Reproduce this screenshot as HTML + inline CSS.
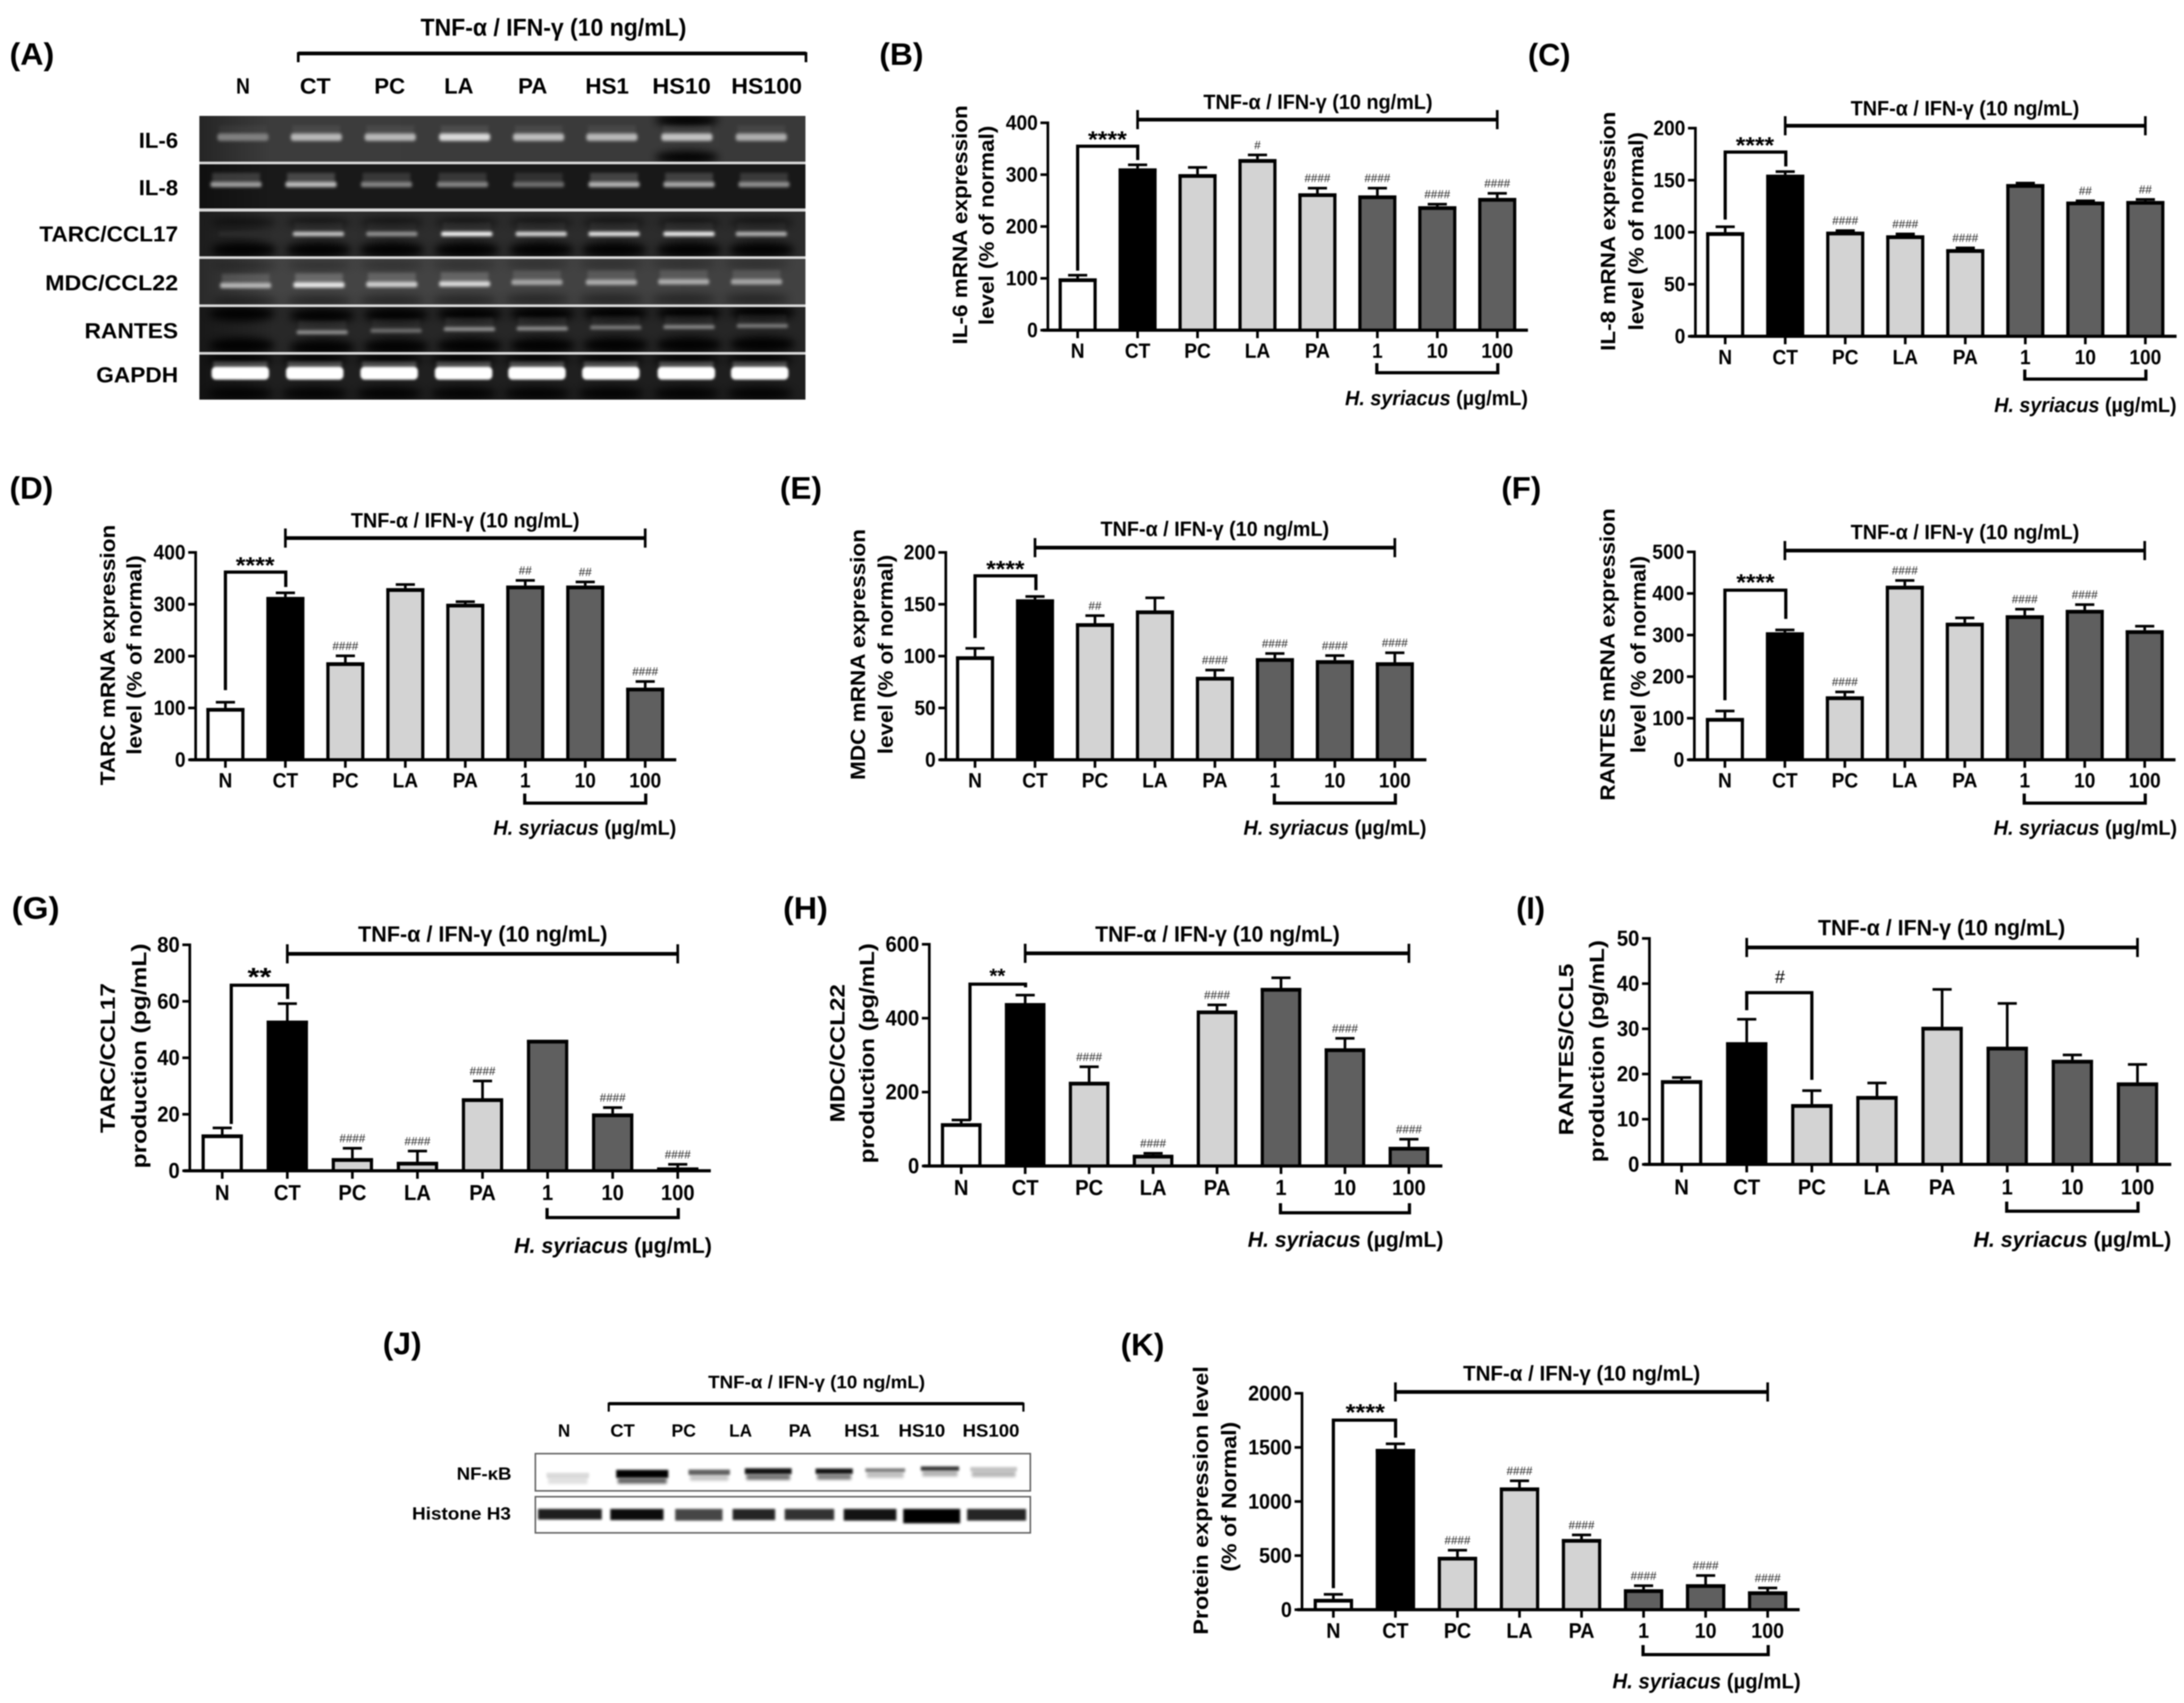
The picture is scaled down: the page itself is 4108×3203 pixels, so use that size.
<!DOCTYPE html>
<html lang="en">
<head>
<meta charset="utf-8">
<title>TNF-α / IFN-γ expression panels</title>
<style>
html,body{margin:0;padding:0;background:#fff;width:4108px;height:3203px;overflow:hidden}
svg{display:block;font-family:"Liberation Sans",Arial,sans-serif;filter:blur(1.1px)}
</style>
</head>
<body>
<svg id="figure" xmlns="http://www.w3.org/2000/svg" width="4108" height="3203" viewBox="0 0 4108 3203">
<defs>
<filter id="b2" x="-30%" y="-100%" width="160%" height="300%"><feGaussianBlur stdDeviation="2.2"/></filter>
<filter id="b3" x="-30%" y="-200%" width="160%" height="500%"><feGaussianBlur stdDeviation="3"/></filter>
<filter id="b6" x="-40%" y="-200%" width="180%" height="500%"><feGaussianBlur stdDeviation="8"/></filter>
<clipPath id="gel-clip"><rect x="375" y="218" width="1140" height="534"/></clipPath>
<clipPath id="blot-clip"><rect x="1007" y="2734" width="931" height="149"/></clipPath>
<linearGradient id="gel-fade" x1="0" x2="1" y1="0" y2="0"><stop offset="0" stop-color="#000" stop-opacity=".45"/><stop offset=".12" stop-color="#000" stop-opacity=".1"/><stop offset="1" stop-color="#000" stop-opacity=".15"/></linearGradient>
</defs>
<rect width="4108" height="3203" fill="#fff"/>
</svg>
<script>
// ---------- chart data ----------
const categories = ['N','CT','PC','LA','PA','1','10','100'];
const treatmentLabel = 'TNF-α / IFN-γ (10 ng/mL)';

const valuesB = [98,310,299,328,262,258,237,253];
const errorsB = [7,8,14,9,11,15,5,10];
const marksB  = ['','','','#','####','####','####','####'];
const ticksB  = [0,100,200,300,400];

const valuesC = [99,154.3,99.5,96,82.7,145.2,128.4,129];
const errorsC = [5.7,3.4,1.5,1.8,1.7,1.5,1.2,2];
const marksC  = ['','','####','####','####','','##','##'];
const ticksC  = [0,50,100,150,200];

const valuesD = [98,312,186,329,299,334,334,137];
const errorsD = [12,9,13.5,8,5,11,8,13];
const marksD  = ['','','####','','','##','##','####'];
const ticksD  = [0,100,200,300,400];

const valuesE = [98.8,153.7,130.7,143,79,97,95,93];
const errorsE = [8.2,3.3,7.8,12.7,7,5,5,9.7];
const marksE  = ['','','##','','####','####','####','####'];
const ticksE  = [0,50,100,150,200];

const valuesF = [98,304,150,416,327,345,358,309];
const errorsF = [18,7,12,14,13,16,14,11];
const marksF  = ['','','####','####','','####','####',''];
const ticksF  = [0,100,200,300,400,500];

const valuesG = [12.5,52.8,4.1,2.8,25.3,46,19.9,0.8];
const errorsG = [2.5,6.2,3.7,4,6.3,0,2.3,1.3];
const marksG  = ['','','####','####','####','','####','####'];
const ticksG  = [0,20,40,60,80];

const valuesH = [113,438,225,27.5,418,479,315.5,49];
const errorsH = [10,23,42,5.5,16.5,29,28.5,22];
const marksH  = ['','','####','####','####','','####','####'];
const ticksH  = [0,200,400,600];

const valuesI = [18.4,26.8,13.1,14.9,30.2,25.8,22.9,17.9];
const errorsI = [0.7,5.2,3.1,3,8.4,9.7,1.2,4.1];
const marksI  = ['','','','','','','',''];
const ticksI  = [0,10,20,30,40,50];

const valuesK = [90,1476,479,1120,644,179,226,160];
const errorsK = [47,52,66,66,42,38,85,36];
const marksK  = ['','','####','####','####','####','####','####'];
const ticksK  = [0,500,1000,1500,2000];

// ---------- panel layout (frame geometry only) ----------
const barFill = i => i===0 ? '#ffffff' : i===1 ? '#000000' : i<5 ? '#d3d3d3' : '#5f5f5f';
const NS = 'http://www.w3.org/2000/svg';
const root = document.getElementById('figure');

function mk(parent, tag, attrs, name, text) {
  const el = document.createElementNS(NS, tag);
  for (const k in attrs) el.setAttribute(k, attrs[k]);
  
  
  if (text !== undefined) el.textContent = text;
  parent.appendChild(el);
  return el;
}
function line(p, x1, y1, x2, y2, sw, name) {
  return mk(p, 'line', {x1, y1, x2, y2, stroke:'#000', 'stroke-width':sw}, name);
}
function poly(p, pts, sw, name) {
  return mk(p, 'polyline', {points:pts.map(q=>q.join(',')).join(' '), fill:'none', stroke:'#000', 'stroke-width':sw, 'stroke-linejoin':'miter'}, name);
}
// Reference glyphs are slightly taller than wide: condensed by keeping the width and raising the size.
function label(p, str, x, cy, o, name) {
  const fs = o.fs;
  const a = {x, y:cy + (o.base===undefined ? .36 : o.base)*fs, 'font-size':fs, 'font-weight':o.weight||'bold', fill:o.fill||'#000', 'text-anchor':o.anchor||'middle'};
  if (o.w) { a.textLength = o.w; a.lengthAdjust = 'spacingAndGlyphs'; }
  const el = mk(p, 'text', a, name, str);
  if (o.condense) {
    const natural = el.getComputedTextLength();
    el.setAttribute('font-size', fs*1.07);
    el.setAttribute('textLength', natural);
    el.setAttribute('lengthAdjust', 'spacingAndGlyphs');
  }
  return el;
}
function panelLetter(p, str, x, cy, w) {
  return mk(p, 'text', {x, y:cy+16, 'font-size':58, 'font-weight':'bold', textLength:w, lengthAdjust:'spacingAndGlyphs'}, 'panel-letter', str);
}
function syriacus(p, right, cy, w, fs) {
  const t = mk(p, 'text', {x:right, y:cy+.36*fs, 'font-size':fs, 'font-weight':'bold', 'text-anchor':'end', textLength:w, lengthAdjust:'spacingAndGlyphs'}, 'h-syriacus-label');
  mk(t, 'tspan', {'font-style':'italic'}, 'h-syriacus-species', 'H. syriacus');
  mk(t, 'tspan', {}, 'h-syriacus-unit', ' (µg/mL)');
  return t;
}

function drawChart(c) {
  const g = mk(root, 'g', {}, c.name);
  const yS = v => c.y0 - (v/c.max)*(c.y0-c.yt);
  const xS = i => c.x0 + i*c.step;
  const bw = .635*c.step;
  panelLetter(g, c.letter[0], c.letter[1], c.letter[2], c.letter[3]);

  // y titles
  c.ytitle.forEach((t,i) => {
    mk(g, 'text', {x:t[1]+12, y:t[2], transform:`rotate(-90 ${t[1]+12} ${t[2]})`, 'font-size':39, 'font-weight':'bold', 'text-anchor':'middle', textLength:t[3], lengthAdjust:'spacingAndGlyphs'}, 'y-axis-title-line-'+(i+1), t[0]);
  });

  // bars + errors
  categories.forEach((cat,i) => {
    const v = c.values[i], e = c.errors[i];
    const yv = yS(v) - 2;
    if (e > 0) {
      line(g, xS(i), yv, xS(i), yS(v+e)-1, 5, 'error-bar-'+cat);
      line(g, xS(i)-18, yS(v+e)-1, xS(i)+18, yS(v+e)-1, 5, 'error-cap-'+cat);
    }
    mk(g, 'rect', {x:xS(i)-bw/2+3, y:yv+3, width:bw-6, height:Math.max(0,c.y0-yv-3), fill:barFill(i), stroke:'#000', 'stroke-width':6}, 'bar-'+cat);
    line(g, xS(i)-bw/2, yv+3.5, xS(i)+bw/2, yv+3.5, 7, 'bar-top-'+cat);
    if (c.marks[i]) {
      label(g, c.marks[i], xS(i), yS(v+e)-20, {fs:22, weight:'normal', fill:'#1c1c1c', w:c.marks[i].length*12.2}, 'significance-mark-'+cat);
    }
    line(g, xS(i), c.y0, xS(i), c.y0+15, 5, 'x-tick-'+cat);
    label(g, cat, xS(i), c.xly, {fs:c.fs, condense:true}, 'x-label-'+cat);
  });

  // axes
  line(g, c.ax, c.yt-2.5, c.ax, c.y0+2, 5, 'y-axis');
  line(g, c.xs, c.y0, c.xe, c.y0, 6, 'x-axis');
  c.ticks.forEach(v => {
    line(g, c.ax-14, yS(v), c.ax, yS(v), 5, 'y-tick-'+v);
    label(g, String(v), c.ax-19, yS(v), {fs:c.fs, anchor:'end', condense:true}, 'y-tick-label-'+v);
  });

  // treatment bracket
  const tb = c.treat;
  line(g, xS(1), tb.y, xS(7), tb.y, 7, 'treatment-bracket');
  line(g, xS(1), tb.y-18, xS(1), tb.y+18, 5, 'treatment-bracket-left-end');
  line(g, xS(7), tb.y-18, xS(7), tb.y+18, 5, 'treatment-bracket-right-end');
  label(g, treatmentLabel, tb.cx, tb.ly, {fs:tb.fs+3, w:tb.w}, 'treatment-label');

  // significance bracket
  const s = c.sig;
  poly(g, [[s.lx, s.ly],[s.lx, s.y],[s.rx, s.y],[s.rx, s.ry]], 6, 'significance-bracket');
  label(g, s.text, s.cx, s.cy, {fs:s.fs, w:s.w, base:s.base===undefined?.55:s.base, weight:s.weight}, 'significance-label');

  // dose bracket
  const d = c.dose;
  poly(g, [[xS(5)-1, d.y-18],[xS(5)-1, d.y],[xS(7)+1, d.y],[xS(7)+1, d.y-18]], 6, 'dose-bracket');
  syriacus(g, d.right, d.ly, d.w, d.fs+3);
}

const charts = [
{name:'panel-b-il6', letter:['(B)',1654,106,83], values:valuesB, errors:errorsB, marks:marksB, ticks:ticksB, max:400,
 ax:1971,y0:621,yt:231,x0:2027,step:112.75,xs:1961,xe:2874,xly:660,fs:36,
 ytitle:[['IL-6 mRNA expression',1807,423,450],['level (% of normal)',1857,424,375]],
 treat:{y:225,cx:2479,ly:191,w:431,fs:36},
 sig:{lx:2027,rx:2140,y:275,ly:509,ry:301,text:'****',cx:2083,cy:253,fs:44,w:73},
 dose:{y:701,right:2874,ly:748,w:344,fs:36}},
{name:'panel-c-il8', letter:['(C)',2874,107,80], values:valuesC, errors:errorsC, marks:marksC, ticks:ticksC, max:200,
 ax:3189,y0:632.5,yt:241,x0:3245,step:112.9,xs:3179,xe:4094,xly:672,fs:36,
 ytitle:[['IL-8 mRNA expression',3026,435,450],['level (% of normal)',3079,435,373]],
 treat:{y:236.5,cx:3696,ly:203,w:430,fs:36},
 sig:{lx:3245,rx:3359,y:286,ly:413,ry:313,text:'****',cx:3301,cy:264,fs:44,w:72},
 dose:{y:713,right:4094,ly:761,w:343,fs:36}},
{name:'panel-d-tarc', letter:['(D)',18,922,82], values:valuesD, errors:errorsD, marks:marksD, ticks:ticksD, max:400,
 ax:368,y0:1429,yt:1039,x0:424,step:112.8,xs:357,xe:1272,xly:1468,fs:36,
 ytitle:[['TARC mRNA expression',204,1232,490],['level (% of normal)',254,1232,375]],
 treat:{y:1012,cx:875,ly:978,w:430,fs:36},
 sig:{lx:424,rx:537.5,y:1076,ly:1298,ry:1104,text:'****',cx:480,cy:1054,fs:44,w:73},
 dose:{y:1510.5,right:1272,ly:1556,w:344,fs:36}},
{name:'panel-e-mdc', letter:['(E)',1467,922,79], values:valuesE, errors:errorsE, marks:marksE, ticks:ticksE, max:200,
 ax:1779,y0:1429,yt:1039,x0:1834,step:112.8,xs:1768,xe:2683,xly:1468,fs:36,
 ytitle:[['MDC mRNA expression',1615,1231,472],['level (% of normal)',1667,1231,375]],
 treat:{y:1030,cx:2285,ly:994,w:430,fs:36},
 sig:{lx:1834,rx:1948.5,y:1083,ly:1200,ry:1110,text:'****',cx:1891,cy:1061,fs:44,w:72},
 dose:{y:1510.5,right:2683,ly:1556,w:344,fs:36}},
{name:'panel-f-rantes', letter:['(F)',2824,922,75], values:valuesF, errors:errorsF, marks:marksF, ticks:ticksF, max:500,
 ax:3187,y0:1429,yt:1038,x0:3244.5,step:112.8,xs:3176,xe:4092,xly:1468,fs:36,
 ytitle:[['RANTES mRNA expression',3025,1231,550],['level (% of normal)',3083,1231,371]],
 treat:{y:1035.5,cx:3696,ly:1000,w:430,fs:36},
 sig:{lx:3244.5,rx:3359,y:1110,ly:1317,ry:1164,text:'****',cx:3302,cy:1086,fs:44,w:72},
 dose:{y:1510.5,right:4095,ly:1556,w:345,fs:36}},
{name:'panel-g-tarc-production', letter:['(G)',22,1712,90], values:valuesG, errors:errorsG, marks:marksG, ticks:ticksG, max:80,
 ax:357,y0:2202,yt:1777,x0:418,step:122.4,xs:346,xe:1337,xly:2243.5,fs:38,
 ytitle:[['TARC/CCL17',204,1990,282],['production (pg/mL)',263,1986,423]],
 treat:{y:1794,cx:908,ly:1756,w:469,fs:39},
 sig:{lx:435,rx:541,y:1853,ly:2114,ry:1879,text:'**',cx:488,cy:1827,fs:48,w:45},
 dose:{y:2290,right:1339,ly:2341.5,w:372,fs:38}},
{name:'panel-h-mdc-production', letter:['(H)',1473,1712,84], values:valuesH, errors:errorsH, marks:marksH, ticks:ticksH, max:600,
 ax:1748,y0:2193,yt:1776,x0:1808,step:120.3,xs:1737,xe:2713,xly:2234,fs:38,
 ytitle:[['MDC/CCL22',1576.5,1981,260],['production (pg/mL)',1632,1981,414]],
 treat:{y:1793,cx:2290,ly:1756,w:460,fs:39},
 sig:{lx:1824.5,rx:1929,y:1851,ly:2107,ry:1857,text:'**',cx:1876,cy:1827,fs:38,w:30},
 dose:{y:2281,right:2715,ly:2330,w:368,fs:38}},
{name:'panel-i-rantes-production', letter:['(I)',2852,1712,54], values:valuesI, errors:errorsI, marks:marksI, ticks:ticksI, max:50,
 ax:3102.5,y0:2190,yt:1765,x0:3163,step:122.5,xs:3092,xe:4084,xly:2233,fs:38,
 ytitle:[['RANTES/CCL5',2947,1974,323],['production (pg/mL)',3005,1977,418]],
 treat:{y:1782,cx:3652,ly:1744,w:465,fs:39},
 sig:{lx:3285.5,rx:3408,y:1867,ly:1900,ry:2031,text:'#',cx:3348,cy:1837,fs:34,base:.36,weight:'normal'},
 dose:{y:2278,right:4084,ly:2330,w:372,fs:38}},
{name:'panel-k-protein-expression', letter:['(K)',2108,2533,82], values:valuesK, errors:errorsK, marks:marksK, ticks:ticksK, max:2000,
 ax:2449,y0:3027.5,yt:2620.5,x0:2508,step:116.7,xs:2440,xe:3385,xly:3067,fs:37,
 ytitle:[['Protein expression level',2260,2822,505],['(% of Normal)',2313,2815,282]],
 treat:{y:2618,cx:2975,ly:2582,w:446,fs:37},
 sig:{lx:2508,rx:2625,y:2671,ly:2987,ry:2704,text:'****',cx:2568,cy:2647,fs:44,w:74},
 dose:{y:3112,right:3387,ly:3161,w:354,fs:37}}
];
charts.forEach(drawChart);

// ---------- panel A : RT-PCR gel ----------
const gelLanes = ['N','CT','PC','LA','PA','HS1','HS10','HS100'];
const gelTargets = ['IL-6','IL-8','TARC/CCL17','MDC/CCL22','RANTES','GAPDH'];
const gelIntensity = [
  [.50,.72,.72,.86,.74,.72,.76,.68],
  [.62,.74,.52,.52,.44,.70,.66,.56],
  [.16,.78,.58,1.0,.86,.92,.96,.70],
  [.72,.92,.82,.86,.66,.68,.68,.66],
  [.00,.58,.45,.60,.58,.50,.55,.50],
  [1,1,1,1,1,1,1,1]
];
(function(){
  const g = mk(root, 'g', {}, 'panel-a-gel');
  panelLetter(g, '(A)', 18, 106, 84);
  label(g, treatmentLabel, 1041, 51, {fs:45, w:500}, 'treatment-label');
  line(g, 561, 100.5, 1516, 100.5, 7, 'treatment-bracket');
  line(g, 561, 98, 561, 117, 5, 'treatment-bracket-left-end');
  line(g, 1516, 98, 1516, 117, 5, 'treatment-bracket-right-end');
  const headX = [457,593,733,863,1002,1142,1282,1442];
  const headW = [26,58,58,55,55,82,110,133];
  gelLanes.forEach((n,i)=> label(g, n, headX[i], 161, {fs:42, w:headW[i]}, 'lane-label-'+n));
  const strips = [
    {y:218,h:86,bg:'#434343',by:258,bh:14,smear:.10,rowY:263,lw:74,spots:[],
     x:[457,595,734,874,1013,1151,1292,1432],dy:[0,0,0,0,0,0,0,0]},
    {y:309,h:83,bg:'#1c1c1c',by:347,bh:10,smear:.28,rowY:352,lw:74,spots:[],
     x:[444,585,727,870,1013,1155,1296,1437],dy:[0,0,0,0,0,0,0,0]},
    {y:398,h:84,bg:'#333333',by:440,bh:8,smear:.06,rowY:439,lw:261,spots:[[470,15,.95],[418,9,.6]],
     x:[459,599,737,878,1018,1155,1296,1432],dy:[0,0,0,0,0,0,0,0]},
    {y:487,h:85.5,bg:'#4c4c4c',by:533,bh:10,smear:.22,rowY:531,lw:250,spots:[[564,9,.45],[497,8,.3]],
     x:[462,600,737,874,1010,1150,1286,1423],dy:[4,3,2,1,-2,-2,-3,-3]},
    {y:577.5,h:84.5,bg:'#2c2c2c',by:618,bh:7,smear:.12,rowY:621,lw:176,spots:[[590,14,.95],[650,15,.95]],
     x:[455,606,745,883,1020,1158,1296,1434],dy:[0,7,4,1,0,-2,-3,-5]},
    {y:667,h:84.5,bg:'#232323',by:702,bh:24,smear:.25,rowY:704,lw:154,spots:[[676,10,1],[740,12,.9]],
     x:[452,592,732,872,1010,1149,1291,1429],dy:[0,0,0,0,0,0,0,0]}
  ];
  const clip = mk(g, 'g', {'clip-path':'url(#gel-clip)'}, 'gel-image');
  mk(clip, 'rect', {x:375,y:218,width:1140,height:534,fill:'#d8d8d8'}, 'gel-separators');
  strips.forEach((s,r)=>{
    const cp = mk(clip, 'clipPath', {id:'strip-clip-'+r}, 'gel-strip-clip');
    mk(cp, 'rect', {x:375,y:s.y,width:1140,height:s.h}, 'gel-strip-clip-rect');
    const sg = mk(clip, 'g', {'clip-path':`url(#strip-clip-${r})`}, 'gel-strip-'+gelTargets[r]);
    mk(sg, 'rect', {x:375,y:s.y,width:1140,height:s.h,fill:s.bg}, 'gel-strip-background');
    mk(sg, 'rect', {x:375,y:s.y,width:1140,height:s.h,fill:'url(#gel-fade)'}, 'gel-strip-shading');
    if (r===0) {
      mk(sg, 'ellipse', {cx:1292, cy:226, rx:60, ry:12, fill:'#000', filter:'url(#b6)'}, 'gel-dark-spot');
      mk(sg, 'ellipse', {cx:1292, cy:296, rx:60, ry:12, fill:'#000', filter:'url(#b6)'}, 'gel-dark-spot');
    }
    s.x.forEach((x,i)=>{
      const v = gelIntensity[r][i];
      const w = r===5 ? 108 : 96;
      const by = s.by + s.dy[i];
      s.spots.forEach(sp => {
        mk(sg, 'ellipse', {cx:x, cy:sp[0]+s.dy[i]*.5, rx:62, ry:sp[1], fill:'#000', opacity:sp[2], filter:'url(#b6)'}, 'gel-dark-spot');
      });
      if (v===0) return;
      const c = Math.round(255*v);
      mk(sg, 'rect', {x:x-w/2+3, y:by-22, width:w-6, height:20, fill:`rgb(${c},${c},${c})`, opacity:s.smear, filter:'url(#b3)'}, 'gel-band-smear');
      mk(sg, 'rect', {x:x-w/2, y:by-s.bh/2, width:w, height:s.bh, rx:s.bh/3, fill:`rgb(${c},${c},${c})`, filter:r===5?'url(#b2)':'url(#b3)'}, 'gel-band-'+gelLanes[i]);
    });
    label(g, gelTargets[r], 335, s.rowY, {fs:41, anchor:'end', w:s.lw}, 'row-label-'+gelTargets[r]);
  });
})();

// ---------- panel J : western blot ----------
const blotLanes = ['N','CT','PC','LA','PA','HS1','HS10','HS100'];
const nfkbUpper = [.14,1,.62,.92,.92,.5,.78,.22];
const nfkbLower = [.12,.6,.22,.55,.5,.25,.3,.28];
(function(){
  const g = mk(root, 'g', {}, 'panel-j-blot');
  panelLetter(g, '(J)', 720, 2531, 73);
  label(g, treatmentLabel, 1536, 2599, {fs:34, w:408}, 'treatment-label');
  line(g, 1145, 2640, 1925, 2640, 6, 'treatment-bracket');
  line(g, 1145, 2638, 1145, 2655, 4, 'treatment-bracket-left-end');
  line(g, 1925, 2638, 1925, 2655, 4, 'treatment-bracket-right-end');
  const headX = [1061,1171,1286,1393,1505,1621,1734,1864];
  const headW = [23,46,46,43,43,66,88,107];
  blotLanes.forEach((n,i)=> label(g, n, headX[i], 2690, {fs:33, w:headW[i]}, 'lane-label-'+n));
  label(g, 'NF-κB', 962, 2771, {fs:33, anchor:'end', w:103}, 'row-label-nf-kb');
  label(g, 'Histone H3', 961, 2846, {fs:33, anchor:'end', w:186}, 'row-label-histone-h3');
  const boxes = mk(g, 'g', {'clip-path':'url(#blot-clip)'}, 'blot-image');
  const nx = [1068,1208,1334,1445,1569,1665,1768,1869];
  const nw = [80,98,78,88,70,75,72,88];
  const ny = [2775,2772,2769,2767,2767,2765,2762,2763];
  const nh = [10,15,10,11,10,7,8,8];
  nx.forEach((x,i)=>{
    mk(boxes,'rect',{x:x-nw[i]/2,y:ny[i]-nh[i]/2,width:nw[i],height:nh[i],fill:'#000',opacity:nfkbUpper[i],filter:'url(#b2)'},'nf-kb-band-'+blotLanes[i]);
    mk(boxes,'rect',{x:x-nw[i]/2+3,y:ny[i]+nh[i]/2,width:nw[i]-6,height:11,fill:'#000',opacity:nfkbLower[i],filter:'url(#b3)'},'nf-kb-lower-band-'+blotLanes[i]);
  });
  const hl = [1012,1148,1270,1378,1476,1587,1699,1819];
  const hr = [1132,1248,1359,1458,1569,1686,1806,1930];
  const ht = [.88,.95,.72,.85,.8,.92,1,.85];
  const hh = [20,21,22,21,21,22,27,22];
  hl.forEach((x,i)=>{
    mk(boxes,'rect',{x,y:2838,width:hr[i]-x,height:hh[i],fill:'#000',opacity:ht[i],filter:'url(#b2)'},'histone-band-'+blotLanes[i]);
  });
  mk(g,'rect',{x:1007,y:2734,width:931,height:70,fill:'none',stroke:'#666','stroke-width':3},'nf-kb-blot-frame');
  mk(g,'rect',{x:1007,y:2815,width:931,height:68,fill:'none',stroke:'#666','stroke-width':3},'histone-blot-frame');
})();
</script>
</body>
</html>
